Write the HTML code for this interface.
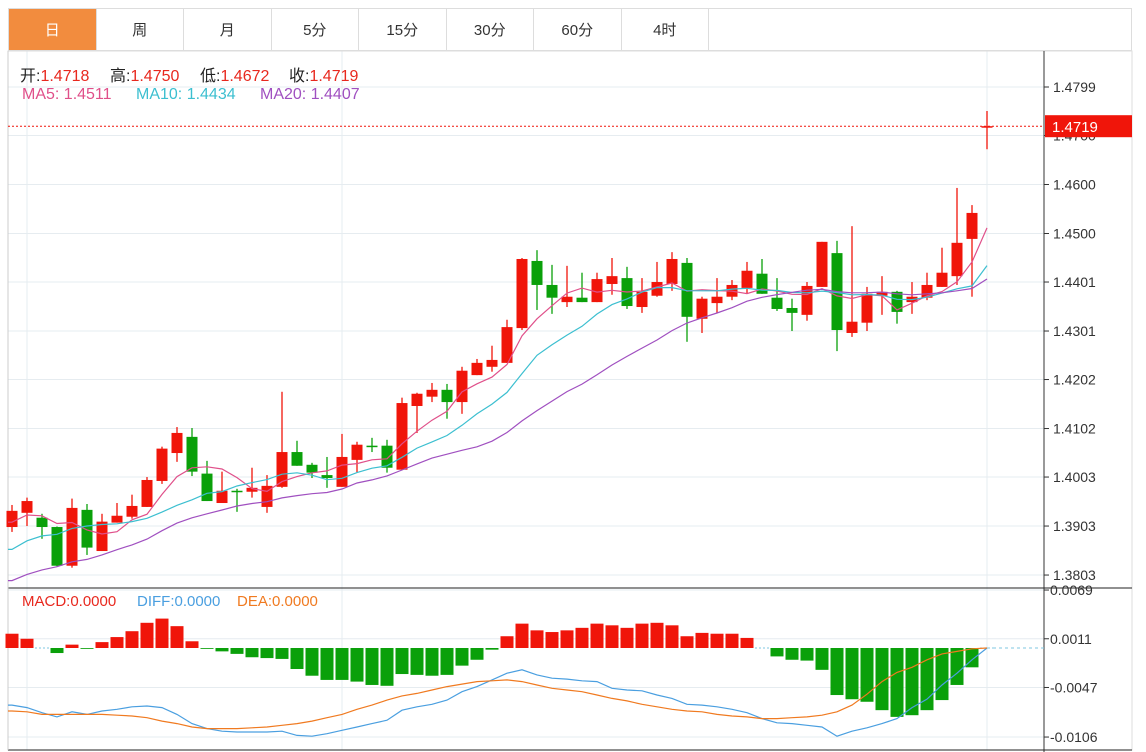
<!DOCTYPE html>
<html><head><meta charset="utf-8">
<style>
body{margin:0;background:#fff;width:1146px;height:752px;overflow:hidden;font-family:"Liberation Sans","Noto Sans CJK SC",sans-serif;}
.tabs{position:absolute;left:8px;top:8px;height:43px;width:1124px;border:1px solid #ddd;border-bottom:1px solid #ddd;box-sizing:border-box;display:flex;}
.tab{width:87.5px;height:100%;border-right:1px solid #ddd;box-sizing:border-box;display:flex;align-items:center;justify-content:center;font-size:15px;color:#333;}
.tab.on{background:#f28c3e;color:#fff;}
svg{position:absolute;left:0;top:0;}
.lg{position:absolute;white-space:pre;}
</style></head><body>
<div class="tabs">
<div class="tab on">日</div>
<div class="tab">周</div>
<div class="tab">月</div>
<div class="tab">5分</div>
<div class="tab">15分</div>
<div class="tab">30分</div>
<div class="tab">60分</div>
<div class="tab">4时</div>
</div>
<svg id="chart" width="1146" height="752" style="top:0"></svg>
<script>
const opens=[1.3901,1.3930,1.3920,1.3901,1.3822,1.3936,1.3852,1.3910,1.3922,1.3942,1.3995,1.4052,1.4085,1.4010,1.3950,1.3975,1.3973,1.3942,1.3983,1.4054,1.4028,1.4007,1.3983,1.4038,1.4067,1.4067,1.4018,1.4148,1.4167,1.4181,1.4156,1.4211,1.4228,1.4236,1.4307,1.4444,1.4395,1.4360,1.4369,1.4360,1.4397,1.4409,1.4350,1.4373,1.4397,1.4440,1.4326,1.4358,1.4371,1.4389,1.4418,1.4369,1.4348,1.4334,1.4391,1.4460,1.4297,1.4318,1.4373,1.4381,1.4360,1.4369,1.4391,1.4413,1.4489,1.4718];
const closes=[1.3934,1.3954,1.3901,1.3822,1.3940,1.3859,1.3912,1.3924,1.3944,1.3997,1.4061,1.4093,1.4014,1.3954,1.3975,1.3973,1.3981,1.3985,1.4054,1.4026,1.4012,1.4001,1.4044,1.4069,1.4065,1.4022,1.4154,1.4173,1.4181,1.4156,1.4220,1.4236,1.4242,1.4309,1.4448,1.4395,1.4369,1.4371,1.4360,1.4407,1.4413,1.4352,1.4381,1.4401,1.4448,1.4330,1.4367,1.4371,1.4395,1.4424,1.4377,1.4346,1.4338,1.4393,1.4483,1.4303,1.4320,1.4377,1.4381,1.4340,1.4371,1.4395,1.4420,1.4481,1.4542,1.4719];
const highs=[1.3946,1.3961,1.3928,1.3902,1.3959,1.3948,1.3928,1.3950,1.3967,1.4003,1.4065,1.4105,1.4103,1.4036,1.4014,1.3979,1.4022,1.4007,1.4177,1.4077,1.4032,1.4044,1.4091,1.4075,1.4083,1.4079,1.4165,1.4175,1.4195,1.4193,1.4228,1.4244,1.4271,1.4324,1.4450,1.4466,1.4436,1.4434,1.4420,1.4420,1.4450,1.4432,1.4409,1.4442,1.4462,1.4450,1.4371,1.4409,1.4405,1.4442,1.4448,1.4409,1.4367,1.4401,1.4483,1.4485,1.4515,1.4391,1.4413,1.4383,1.4401,1.4420,1.4471,1.4593,1.4558,1.4750];
const lows=[1.3891,1.3903,1.3877,1.3821,1.3818,1.3844,1.3852,1.3910,1.3918,1.3942,1.3989,1.4034,1.4005,1.3954,1.3950,1.3932,1.3961,1.3930,1.3981,1.4026,1.4001,1.3981,1.3983,1.4012,1.4054,1.4012,1.4018,1.4093,1.4156,1.4122,1.4132,1.4211,1.4218,1.4236,1.4303,1.4344,1.4336,1.4350,1.4360,1.4360,1.4375,1.4346,1.4338,1.4371,1.4383,1.4279,1.4297,1.4338,1.4364,1.4377,1.4377,1.4342,1.4301,1.4322,1.4391,1.4260,1.4289,1.4301,1.4334,1.4316,1.4336,1.4364,1.4391,1.4395,1.4371,1.4672];
const priorCloses=[1.3700,1.3720,1.3690,1.3740,1.3760,1.3730,1.3710,1.3750,1.3760,1.3720,1.3780,1.3800,1.3790,1.3820,1.3810,1.3880,1.3910,1.3900,1.3930];
const priceTicks=[1.4799,1.4700,1.4600,1.4500,1.4401,1.4301,1.4202,1.4102,1.4003,1.3903,1.3803];
// MACD values in units of 0.0001
const macdHist=[17,11,0,-6,4,-1,7,13,20,30,35,26,8,-1,-4,-7,-11,-12,-13,-25,-33,-38,-38,-40,-44,-45,-31,-32,-33,-32,-21,-14,-2,14,29,21,19,21,24,29,27,24,29,30,27,14,18,17,17,12,0,-10,-14,-15,-26,-56,-61,-64,-74,-82,-80,-74,-62,-44,-23,0];
const diffLine=[-68,-71,-77,-82,-76,-79,-75,-73,-70,-69,-71,-79,-90,-96,-99,-100,-100,-100,-99,-104,-105,-102,-98,-94,-90,-86,-74,-70,-67,-62,-52,-46,-38,-30,-26,-32,-36,-37,-39,-40,-48,-50,-51,-56,-60,-67,-68,-70,-73,-77,-84,-89,-90,-92,-94,-105,-99,-95,-90,-84,-71,-61,-44,-30,-14,0];
const deaLine=[-75,-76,-79,-79,-79,-79,-79,-80,-81,-83,-87,-90,-94,-96,-96,-96,-95,-94,-92,-90,-87,-83,-79,-73,-68,-62,-57,-54,-50,-46,-43,-40,-39,-38,-40,-44,-48,-50,-52,-56,-60,-63,-67,-70,-73,-75,-76,-79,-81,-82,-84,-84,-83,-82,-80,-76,-68,-55,-40,-29,-23,-14,-7,-4,-1,0];
const macdTicks=[69,11,-47,-106];

const NS='http://www.w3.org/2000/svg';
const svg=document.getElementById('chart');
const X0=12,DX=15,AXIS=1044;
const xOf=i=>X0+DX*i;
const yP=p=>87+(1.4799-p)*4900;
const yM=v=>648-v*0.84;
function mk(tag,at,parent){const e=document.createElementNS(NS,tag);for(const k in at)e.setAttribute(k,at[k]);(parent||svg).appendChild(e);return e;}
priceTicks.forEach(t=>{const g=mk('line',{x1:8,x2:AXIS,y1:yP(t),y2:yP(t),stroke:'#e6ecf0'});

});
macdTicks.forEach(t=>{const g=mk('line',{x1:8,x2:AXIS,y1:yM(t),y2:yM(t),stroke:'#e6ecf0'});

});
[1,22,65].forEach(i=>{const g=mk('line',{x1:xOf(i),x2:xOf(i),y1:51,y2:750,stroke:'#e6ecf0'});

});
mk('rect',{x:8,y:51,width:1124,height:699,fill:'none',stroke:'#ddd'});
mk('line',{x1:AXIS,x2:AXIS,y1:51,y2:752,stroke:'#333'});
mk('line',{x1:8,x2:1132,y1:588,y2:588,stroke:'#222'});
mk('line',{x1:8,x2:1132,y1:750,y2:750,stroke:'#222'});
mk('line',{x1:8,x2:8,y1:51,y2:750,stroke:'#ccc'});
priceTicks.forEach(t=>{const y=yP(t);mk('line',{x1:AXIS,x2:AXIS+5,y1:y,y2:y,stroke:'#333'});
const tx=mk('text',{x:AXIS+9,y:y+5,'font-size':14,fill:'#333'});tx.textContent=t.toFixed(4);

});
macdTicks.forEach(t=>{const y=yM(t);mk('line',{x1:AXIS,x2:AXIS+5,y1:y,y2:y,stroke:'#333'});
const tx=mk('text',{x:AXIS+6,y:y+5,'font-size':14,fill:'#333'});tx.textContent=(t/10000).toFixed(4);

});
const RED='#f0150a',GREEN='#0aa00a';
opens.forEach((o,i)=>{const c=closes[i],x=xOf(i),col=c>=o?RED:GREEN;
const g=mk('g',{});


mk('line',{x1:x,x2:x,y1:yP(highs[i]),y2:yP(lows[i]),stroke:col,'stroke-width':1.3},g);
const top=Math.min(yP(o),yP(c)),h=Math.max(1.5,Math.abs(yP(o)-yP(c)));
mk('rect',{x:x-5.5,y:top,width:11,height:h,fill:col},g);});
const all=priorCloses.concat(closes);
function ma(n){return closes.map((_,i)=>{const j=i+priorCloses.length;let s=0;for(let k=j-n+1;k<=j;k++)s+=all[k];return s/n;});}
[[5,'#e0508a','ma5-line'],[10,'#3cbfd0','ma10-line'],[20,'#a050c0','ma20-line']].forEach(([n,col,name])=>{
const v=ma(n);const pts=v.map((p,i)=>xOf(i)+','+yP(p).toFixed(1));pts.unshift('8,'+yP(v[0]).toFixed(1));
const pl=mk('polyline',{points:pts.join(' '),fill:'none',stroke:col,'stroke-width':1.2});

});
const lp=closes[closes.length-1];
mk('line',{x1:8,x2:AXIS,y1:yP(lp),y2:yP(lp),stroke:RED,'stroke-dasharray':'2,2'});
const lb=mk('rect',{x:AXIS+1,y:yP(lp)-11,width:87,height:22,fill:RED});


const lt=mk('text',{x:AXIS+8,y:yP(lp)+6,'font-size':15,fill:'#fff'});lt.textContent=lp.toFixed(4);
macdHist.forEach((v,i)=>{const x=xOf(i);
if(v===0){mk('line',{x1:x-7,x2:x+7,y1:648,y2:648,stroke:'#7fc7e0','stroke-dasharray':'2,2'});return;}
const r=mk('rect',{x:x-6.5,y:Math.min(yM(v),648),width:13,height:Math.abs(yM(v)-648),fill:v>0?RED:GREEN});

});
mk('line',{x1:xOf(65),x2:AXIS,y1:648,y2:648,stroke:'#7fc7e0','stroke-dasharray':'3,3'});
[[diffLine,'#4a9fe0','diff-line'],[deaLine,'#f07a20','dea-line']].forEach(([arr,col,name])=>{
const pts=arr.map((v,i)=>xOf(i)+','+yM(v).toFixed(1));pts.unshift('8,'+yM(arr[0]).toFixed(1));
const pl=mk('polyline',{points:pts.join(' '),fill:'none',stroke:col,'stroke-width':1.2});

});
</script>
<div style="font-size:16px;color:#222">
<span class="lg" style="left:20px;top:62px">开:<span style="color:#e8281e">1.4718</span></span>
<span class="lg" style="left:110px;top:62px">高:<span style="color:#e8281e">1.4750</span></span>
<span class="lg" style="left:200px;top:62px">低:<span style="color:#e8281e">1.4672</span></span>
<span class="lg" style="left:289px;top:62px">收:<span style="color:#e8281e">1.4719</span></span>
</div>
<div style="font-size:16px">
<span class="lg" style="left:22px;top:86px;color:#e0508a">MA5: 1.4511</span>
<span class="lg" style="left:136px;top:86px;color:#3cbfd0">MA10: 1.4434</span>
<span class="lg" style="left:260px;top:86px;color:#a050c0">MA20: 1.4407</span>
</div>
<div style="font-size:15px">
<span class="lg" style="left:22px;top:593px;color:#e8281e">MACD:0.0000</span>
<span class="lg" style="left:137px;top:593px;color:#4a9fe0">DIFF:0.0000</span>
<span class="lg" style="left:237px;top:593px;color:#f07a20">DEA:0.0000</span>
</div>
</body></html>
